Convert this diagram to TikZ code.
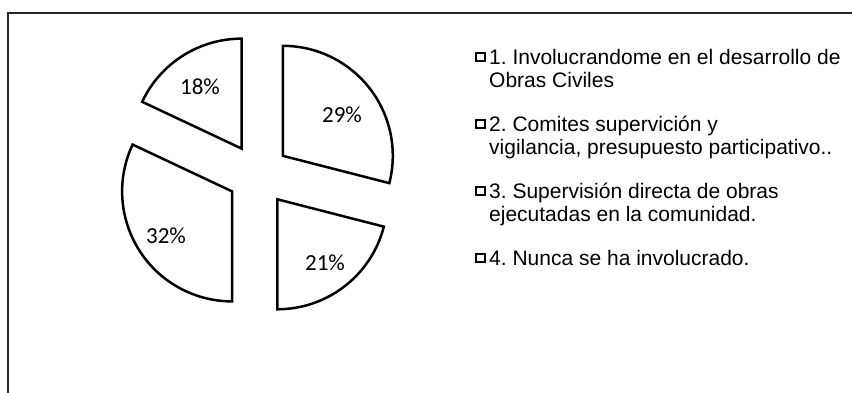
\documentclass[tikz,border=0pt]{standalone}
\usepackage{fontspec}
\setmainfont{Liberation Sans}
\newfontfamily\calibri{Carlito}
\usetikzlibrary{calc}
\frenchspacing
\begin{document}
\begin{tikzpicture}[x=1pt,y=1pt,
  slice/.style={draw=black, line width=2.5pt, fill=white, line join=miter},
  pct/.style={font=\calibri\fontsize{23}{25}\selectfont, inner sep=0pt},
  legtext/.style={anchor=base west, inner sep=0pt, align=left, font=\fontsize{21}{22.5}\selectfont},
  legbox/.style={draw=black, line width=2pt, minimum width=9pt, minimum height=8pt, inner sep=0pt, fill=white},
  frame/.style={draw=black!85, line width=1.3pt}]
\useasboundingbox (0,0) rectangle (852,393);
% frame (left and top edges)
\coordinate (fb) at (8,0);
\coordinate (ftl) at (8,380);
\coordinate (ftr) at (852,380);
\draw[frame] (fb) -- (ftl) -- (ftr);
% exploded pie
\coordinate (C) at (258.3,218.2);
\foreach \s/\e in {90/154.8, 154.8/270, 270/345.6, -14.4/90}{
  \pgfmathsetmacro\m{(\s+\e)/2}
  \draw[slice] ($(C)+(\m:31)$) -- ++(\s:110) arc[start angle=\s, end angle=\e, radius=110] -- cycle;
}
\node[pct] (p18) at (200,306) {18\%};
\node[pct] (p29) at (342,278) {29\%};
\node[pct] (p32) at (166,157) {32\%};
\node[pct] (p21) at (325,130) {21\%};
% legend (anchored at the baseline of the last line)
\node[legtext] (l1) at (489,305.5) {1. Involucrandome en el desarrollo de\\Obras Civiles};
\node[legtext] (l2) at (489,238.5) {2. Comites supervición y\\vigilancia, presupuesto participativo..};
\node[legtext] (l3) at (489,171.5) {3. Supervisión directa de obras\\ejecutadas en la comunidad.};
\node[legtext] (l4) at (489,127) {4. Nunca se ha involucrado.};
\node[legbox] (m1) at (480,335.5) {};
\node[legbox] (m2) at (480,268.5) {};
\node[legbox] (m3) at (480,201.5) {};
\node[legbox] (m4) at (480,134.5) {};
\end{tikzpicture}
\end{document}
